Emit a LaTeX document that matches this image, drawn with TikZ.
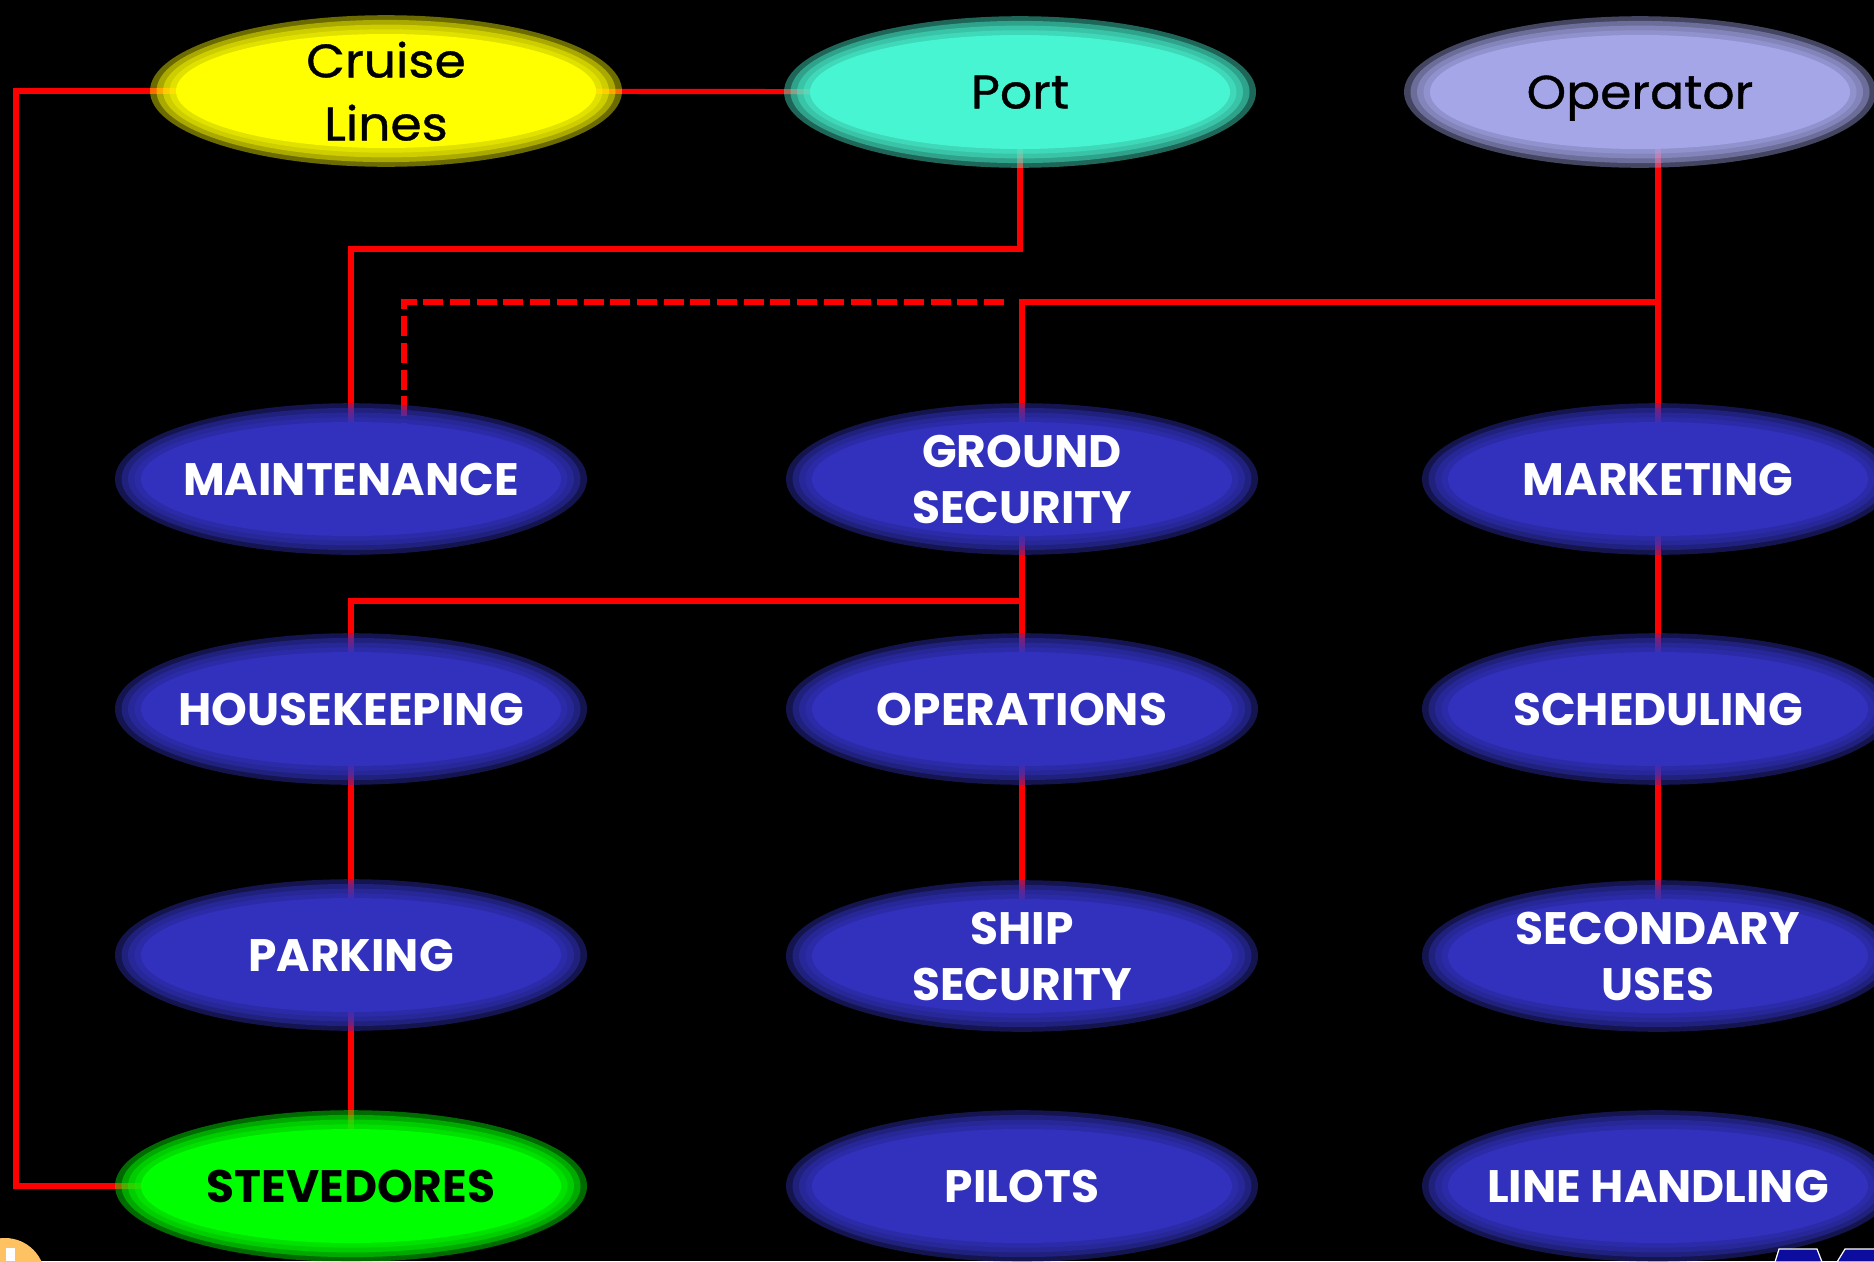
\documentclass[tikz,border=0pt]{standalone}
\usepackage{fontspec}
\setmainfont{Poppins}
\newfontfamily\partyfont{Poppins}[FakeStretch=1.07, FakeBold=0.8]
\usetikzlibrary{backgrounds}

\definecolor{cruiseY}{HTML}{FFFF00}
\definecolor{portC}{HTML}{48F5D2}
\definecolor{operL}{HTML}{A4A6E8}
\definecolor{deptB}{HTML}{3131BE}
\definecolor{steveG}{HTML}{00FF00}
\definecolor{linkR}{HTML}{FF0000}
\definecolor{badgeO}{HTML}{FFC262}
\definecolor{logoB}{HTML}{0C0C9E}

% soft-edged ellipse behind a named node
\newcommand\glowell[2]{%
  \foreach \k in {4,3,2,1} {
    \fill[#2, opacity=0.42] (#1.center) ellipse [x radius={210+6.5*\k}, y radius={57+4.7*\k}];
  }
  \fill[#2] (#1.center) ellipse [x radius=210, y radius=57];
}

\begin{document}
\begin{tikzpicture}[x=1pt, y=-1pt,
  dept/.style={align=center, text=white, inner sep=0pt,
    font=\fontsize{45.5}{56}\selectfont\bfseries},
  party/.style={align=center, text=black, inner sep=0pt, text depth=0pt,
    font=\fontsize{47}{63}\selectfont\partyfont},
  link/.style={draw=linkR, line width=5.2pt, line join=miter},
  dashlink/.style={link, dash pattern=on 20pt off 6.7pt},
]
\useasboundingbox (0,0) rectangle (1874,1261);

% top row
\node[party] (cruise) at (386,91)  {Cruise\\Lines};
\node[party] (port)   at (1020,92) {Port};
\node[party] (oper)   at (1640,92) {Operator};

% departments
\node[dept] (maint)  at (351,479)  {MAINTENANCE};
\node[dept] (ground) at (1022,479) {GROUND\\SECURITY};
\node[dept] (market) at (1658,479) {MARKETING};

\node[dept] (house)  at (351,709)  {HOUSEKEEPING};
\node[dept] (opers)  at (1022,709) {OPERATIONS};
\node[dept] (sched)  at (1658,709) {SCHEDULING};

\node[dept] (park)   at (351,955)  {PARKING};
\node[dept] (ship)   at (1022,956) {SHIP\\SECURITY};
\node[dept] (second) at (1658,956) {SECONDARY\\USES};

\node[dept, text=black] (steve) at (351,1186) {STEVEDORES};
\node[dept] (pilots) at (1022,1186) {PILOTS};
\node[dept] (lineh)  at (1658,1186) {LINE HANDLING};

% routing helpers
\coordinate (railL) at (16,0);
\coordinate (busA)  at (0,249);
\coordinate (busB)  at (0,302);
\coordinate (busC)  at (0,601);
\coordinate (dashS) at (1004,302);
\coordinate (dashX) at (404,0);

\begin{pgfonlayer}{background}
  \fill[black] (0,0) rectangle (1874,1261);

  % connectors
  \draw[link] (cruise.center) -- (cruise.center -| railL) |- (steve.center);
  \draw[link] (cruise.center) -- (port.center);
  \draw[link] (port.center) -- (port.center |- busA) -| (maint.center);
  \draw[dashlink] (dashS) -- (dashS -| dashX) -- (dashX |- maint.center);
  \draw[link] (market.center |- oper.center) -- (market.center);
  \draw[link] (market.center |- busB) -| (ground.center);
  \draw[link] (ground.center) -- (opers.center);
  \draw[link] (ground.center |- busC) -| (house.center);
  \draw[link] (market.center) -- (sched.center);
  \draw[link] (sched.center) -- (second.center);
  \draw[link] (house.center) -- (park.center);
  \draw[link] (park.center) -- (steve.center);
  \draw[link] (opers.center) -- (ship.center);

  % ellipses
  \glowell{cruise}{cruiseY}
  \glowell{port}{portC}
  \glowell{oper}{operL}
  \glowell{maint}{deptB}
  \glowell{ground}{deptB}
  \glowell{market}{deptB}
  \glowell{house}{deptB}
  \glowell{opers}{deptB}
  \glowell{sched}{deptB}
  \glowell{park}{deptB}
  \glowell{ship}{deptB}
  \glowell{second}{deptB}
  \glowell{steve}{steveG}
  \glowell{pilots}{deptB}
  \glowell{lineh}{deptB}

  % corner marks
  \fill[badgeO] (5,1278) circle [radius=40pt];
  \fill[white] (6,1248) rectangle (15,1261);
  \filldraw[fill=logoB, draw=white, line width=1.2pt]
    (1775,1262) -- (1779,1249) -- (1817,1249) -- (1822,1262) -- cycle;
  \filldraw[fill=logoB, draw=white, line width=1.2pt]
    (1837,1262) -- (1845,1249) -- (1876,1249) -- (1876,1262) -- cycle;
\end{pgfonlayer}
\end{tikzpicture}
\end{document}
